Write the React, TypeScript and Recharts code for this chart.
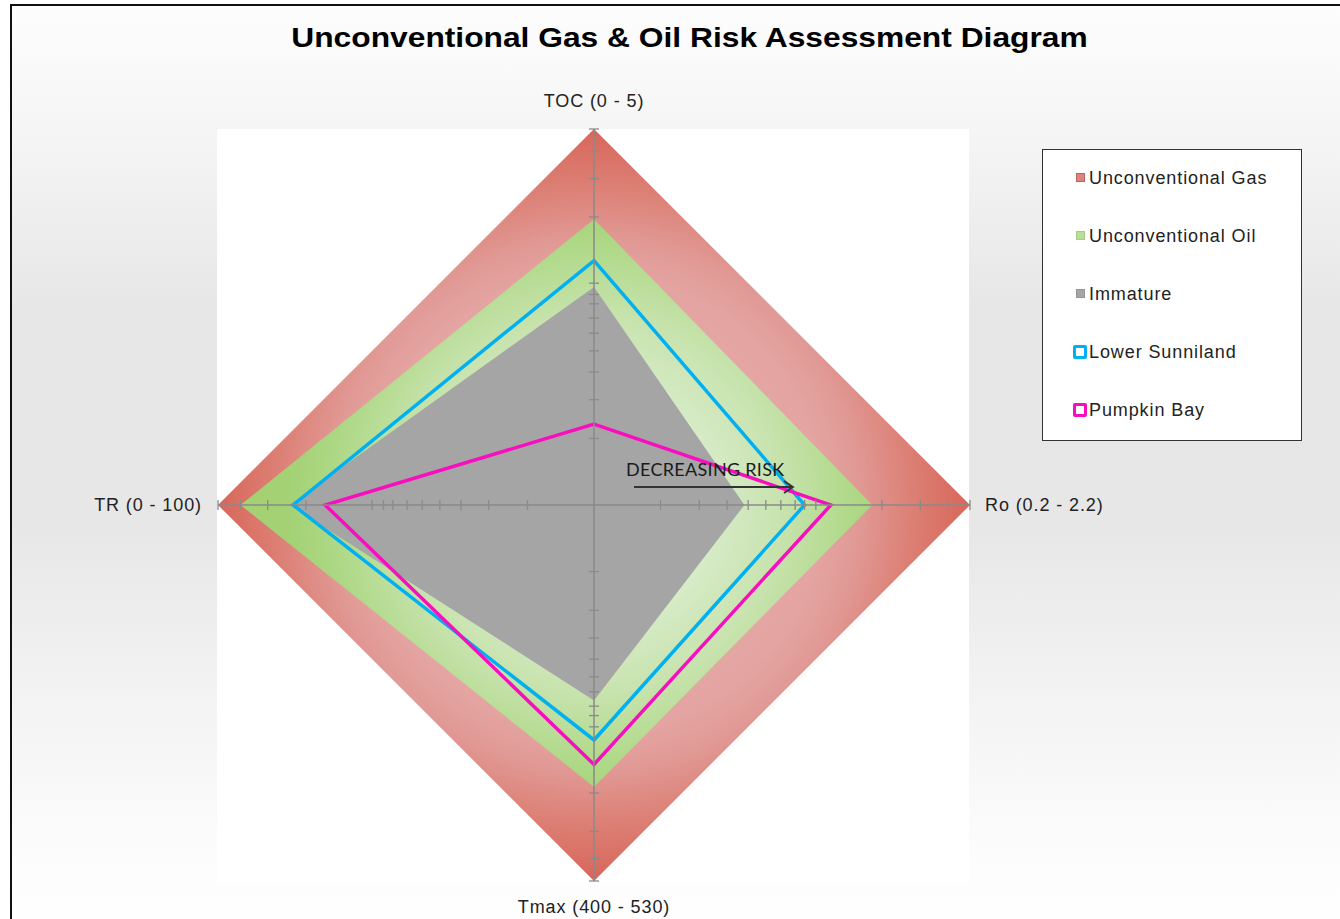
import React from "react";
import {
  RadarChart,
  Radar,
  PolarAngleAxis,
  PolarRadiusAxis,
  Legend,
} from "recharts";

// axis order runs clockwise from the top
const axes = ["TOC (0 - 5)", "Ro (0.2 - 2.2)", "Tmax (400 - 530)", "TR (0 - 100)"];

// values are % of each axis length
const unconventionalGas = [100, 100, 100, 100];
const unconventionalOil = [76, 74, 75, 94];
const immature = [58, 40, 52, 81];
const lowerSunniland = [65, 56, 62.5, 80];
const pumpkinBay = [21.5, 63, 69, 71.5];

// tick marks are the same on all four axes (0 = centre, no mark drawn)
const axisTicks = [0, 17.7, 28, 35.4, 41, 45.7, 49.7, 53.5, 56, 59, 76.6, 86.8, 94, 100];

const data = axes.map((axis, i) => ({
  axis,
  gas: unconventionalGas[i],
  oil: unconventionalOil[i],
  immature: immature[i],
  sunniland: lowerSunniland[i],
  pumpkin: pumpkinBay[i],
}));

const CX = 594;
const CY = 505;
const R = 376;
const FONT = "'Liberation Sans', Arial, sans-serif";
const AXIS_GREY = "#8a8a8a";

const legendOrder = [
  "Unconventional Gas",
  "Unconventional Oil",
  "Immature",
  "Lower Sunniland",
  "Pumpkin Bay",
];

const legendItems: Record<string, { kind: "fill" | "line"; color: string; border?: string }> = {
  "Unconventional Gas": { kind: "fill", color: "#dc847b", border: "#c0625a" },
  "Unconventional Oil": { kind: "fill", color: "#b9de9a", border: "#a3cf80" },
  Immature: { kind: "fill", color: "#a5a5a5", border: "#959595" },
  "Lower Sunniland": { kind: "line", color: "#00b0f0" },
  "Pumpkin Bay": { kind: "line", color: "#f70fbf" },
};

const AngleTick = (props: any) => {
  const { x, y, payload } = props;
  let anchor: "start" | "middle" | "end" = "middle";
  let dx = 0;
  let dy = 0;
  if (Math.abs(x - CX) < 2) {
    dy = y < CY ? -20 : 18;
  } else if (x > CX) {
    anchor = "start";
    dx = 7;
  } else {
    anchor = "end";
    dx = -8;
  }
  return (
    <text
      x={x + dx}
      y={y + dy}
      textAnchor={anchor}
      dominantBaseline="central"
      fontFamily={FONT}
      fontSize={18}
      letterSpacing={0.9}
      fill="#222"
    >
      {payload.value}
    </text>
  );
};

const tickMark = (vertical: boolean) => (props: any) => {
  const { x, y, payload } = props;
  if (!payload || payload.value === 0) return <g />;
  return vertical ? (
    <line x1={x - 5} x2={x + 5} y1={y} y2={y} stroke={AXIS_GREY} strokeWidth={1.3} />
  ) : (
    <line x1={x} x2={x} y1={y - 5} y2={y + 5} stroke={AXIS_GREY} strokeWidth={1.3} />
  );
};

const LegendBox = (props: any) => {
  const names = (props.payload || []).map((p: any) => p.value);
  const shown = legendOrder.filter((n) => names.includes(n));
  return (
    <div
      style={{
        position: "relative",
        width: 260,
        height: 292,
        border: "1.5px solid #333",
        background: "#fff",
        boxSizing: "border-box",
        fontFamily: FONT,
      }}
    >
      {shown.map((name, i) => {
        const item = legendItems[name];
        const top = 28 + i * 58;
        return (
          <div key={name} style={{ position: "absolute", left: 0, top: top - 12, height: 24, width: 258 }}>
            {item.kind === "fill" ? (
              <span
                style={{
                  position: "absolute",
                  left: 33,
                  top: 7,
                  width: 9,
                  height: 9,
                  background: item.color,
                  border: `1px solid ${item.border}`,
                  boxSizing: "border-box",
                }}
              />
            ) : (
              <span
                style={{
                  position: "absolute",
                  left: 30,
                  top: 5,
                  width: 14,
                  height: 14,
                  border: `3.5px solid ${item.color}`,
                  borderRadius: 2,
                  background: "#fff",
                  boxSizing: "border-box",
                }}
              />
            )}
            <span
              style={{
                position: "absolute",
                left: 46,
                top: 0,
                lineHeight: "24px",
                fontSize: 18,
                letterSpacing: 0.9,
                color: "#222",
                whiteSpace: "nowrap",
              }}
            >
              {name}
            </span>
          </div>
        );
      })}
    </div>
  );
};

const sideAxes = [
  { id: "right", angle: 0, vertical: false },
  { id: "bottom", angle: -90, vertical: true },
  { id: "left", angle: 180, vertical: false },
];

export default function App() {
  return (
    <div
      style={{
        position: "fixed",
        left: 0,
        top: 0,
        width: 1340,
        height: 919,
        overflow: "hidden",
        background: "#fff",
      }}
    >
      {/* framed panel with vertical grey gradient */}
      <div
        style={{
          position: "absolute",
          left: 10,
          top: 4,
          width: 1360,
          height: 940,
          border: "2px solid #111",
          background:
            "linear-gradient(to bottom, #fdfdfd 0%, #f6f6f6 12%, #e7e7e7 32%, #e7e7e7 55%, #f4f4f4 75%, #fdfdfd 92%, #ffffff 100%)",
        }}
      />
      {/* plot area */}
      <div
        style={{
          position: "absolute",
          left: 217,
          top: 129,
          width: 752,
          height: 753,
          background: "#fff",
        }}
      />
      <div
        style={{
          position: "absolute",
          left: 0,
          top: 22,
          width: 1379,
          textAlign: "center",
          fontFamily: FONT,
          fontWeight: "bold",
          fontSize: 28,
          lineHeight: "32px",
          color: "#000",
          transform: "scaleX(1.134)",
          transformOrigin: "689.5px 0",
        }}
      >
        Unconventional Gas &amp; Oil Risk Assessment Diagram
      </div>

      <div style={{ position: "absolute", left: 0, top: 0 }}>
        <RadarChart
          width={1340}
          height={919}
          data={data}
          cx={CX}
          cy={CY}
          outerRadius={R}
          margin={{ top: 0, right: 0, bottom: 0, left: 0 }}
        >
          <defs>
            <radialGradient id="gasFill" gradientUnits="userSpaceOnUse" cx={CX} cy={CY} r={R}>
              <stop offset="0%" stopColor="#e9b0ad" />
              <stop offset="60%" stopColor="#e4a5a2" />
              <stop offset="70%" stopColor="#e19a96" />
              <stop offset="85%" stopColor="#dc7f74" />
              <stop offset="100%" stopColor="#d8665a" />
            </radialGradient>
            <radialGradient id="oilFill" gradientUnits="userSpaceOnUse" cx={CX} cy={CY} r={R}>
              <stop offset="0%" stopColor="#e2f1d8" />
              <stop offset="30%" stopColor="#d8ecca" />
              <stop offset="50%" stopColor="#c8e3ae" />
              <stop offset="70%" stopColor="#add885" />
              <stop offset="82%" stopColor="#a3d174" />
            </radialGradient>
          </defs>

          <PolarAngleAxis dataKey="axis" tick={<AngleTick />} tickLine={false} axisLine={false} />

          <Radar
            name="Unconventional Gas"
            dataKey="gas"
            fill="url(#gasFill)"
            fillOpacity={1}
            stroke="none"
            isAnimationActive={false}
          />
          <Radar
            name="Unconventional Oil"
            dataKey="oil"
            fill="url(#oilFill)"
            fillOpacity={1}
            stroke="none"
            isAnimationActive={false}
          />
          <Radar
            name="Immature"
            dataKey="immature"
            fill="#a5a5a5"
            fillOpacity={1}
            stroke="none"
            isAnimationActive={false}
          />

          {/* invisible series so each extra radius axis gets registered */}
          {sideAxes.map((a) => (
            <Radar
              key={`hidden-${a.id}`}
              radiusAxisId={a.id}
              dataKey="gas"
              fill="none"
              fillOpacity={0}
              stroke="none"
              dot={false}
              legendType="none"
              isAnimationActive={false}
            />
          ))}

          <PolarRadiusAxis
            radiusAxisId={0}
            angle={90}
            type="number"
            domain={[0, 100]}
            ticks={axisTicks}
            tick={tickMark(true)}
            axisLine={{ stroke: AXIS_GREY, strokeWidth: 1.5 }}
          />
          {sideAxes.map((a) => (
            <PolarRadiusAxis
              key={a.id}
              radiusAxisId={a.id}
              angle={a.angle}
              type="number"
              domain={[0, 100]}
              ticks={axisTicks}
              tick={tickMark(a.vertical)}
              axisLine={{ stroke: AXIS_GREY, strokeWidth: 1.5 }}
            />
          ))}

          <Radar
            name="Lower Sunniland"
            dataKey="sunniland"
            fill="none"
            fillOpacity={0}
            stroke="#00b0f0"
            strokeWidth={3.5}
            dot={false}
            isAnimationActive={false}
          />
          <Radar
            name="Pumpkin Bay"
            dataKey="pumpkin"
            fill="none"
            fillOpacity={0}
            stroke="#f70fbf"
            strokeWidth={3.5}
            dot={false}
            isAnimationActive={false}
          />

          <Legend
            layout="vertical"
            align="right"
            verticalAlign="top"
            content={<LegendBox />}
            wrapperStyle={{ position: "absolute", left: 1042, top: 149, width: 260, height: 292 }}
          />
        </RadarChart>
      </div>

      {/* annotation */}
      <div
        style={{
          position: "absolute",
          left: 626,
          top: 458,
          fontFamily: "Lato, 'Open Sans', sans-serif",
          fontSize: 18,
          letterSpacing: 0.3,
          color: "#1a1a1a",
          whiteSpace: "nowrap",
          pointerEvents: "none",
        }}
      >
        DECREASING RISK
      </div>
      <svg
        width={1340}
        height={919}
        style={{ position: "absolute", left: 0, top: 0, pointerEvents: "none" }}
      >
        <line x1={634} y1={487} x2={793} y2={487} stroke="#333" strokeWidth={1.8} />
        <polyline points="784,481 793,487 784,493" fill="none" stroke="#333" strokeWidth={1.8} />
      </svg>
    </div>
  );
}
